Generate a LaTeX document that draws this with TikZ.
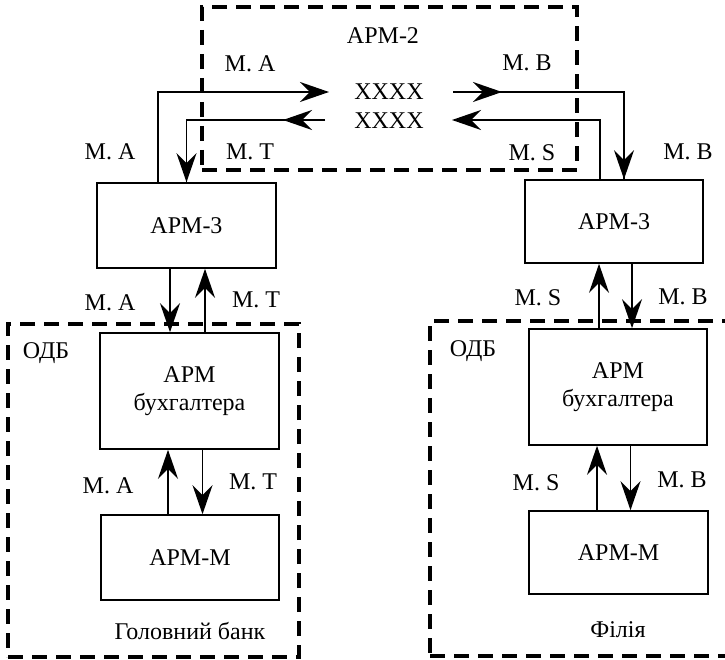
\documentclass[tikz,border=0pt]{standalone}
\usepackage{fontspec}
\setmainfont{Liberation Serif}
\usetikzlibrary{arrows.meta}
\begin{document}
\begin{tikzpicture}[x=1pt,y=-1pt,
  font=\fontsize{24}{28}\selectfont,
  block/.style={draw, line width=1.6pt, minimum width=179pt, align=center, inner sep=0pt},
  zone/.style={draw, line width=3.2pt, dash pattern=on 15pt off 9pt, inner sep=0pt},
  link/.style={line width=1.6pt, -{Stealth[length=29pt,width=20pt,inset=10pt]}},
  plain/.style={line width=1.6pt},
  lbl/.style={inner sep=0pt, anchor=center}]
\useasboundingbox (0,0) rectangle (725,660);
\clip (0,0) rectangle (725,660);

% dashed zones
\node[zone, minimum width=375pt, minimum height=163pt] (zone2) at (389.5,88.5) {};
\node[zone, minimum width=291pt, minimum height=333pt] (zoneL) at (153.5,490.5) {};
\node[zone, minimum width=310pt, minimum height=335pt] (zoneR) at (585,488.5) {};

% workstation boxes
\node[block, minimum height=85pt] (L3) at (186.5,225.5) {АРМ-3};
\node[block, minimum height=116pt] (LB) at (189.5,391) {АРМ\\бухгалтера};
\node[block, minimum height=85pt, minimum width=178pt] (LM) at (190,557.5) {АРМ-М};
\node[block, minimum height=83pt, minimum width=178pt] (R3) at (614,221.5) {АРМ-3};
\node[block, minimum height=116pt, minimum width=178pt] (RB) at (618,387) {АРМ\\бухгалтера};
\node[block, minimum height=83pt] (RM) at (618.5,552.5) {АРМ-М};

% АРМ-2 content
\node[lbl] (t2) at (383,36) {АРМ-2};
\node[lbl] (X1) at (389,92) {XXXX};
\node[lbl] (X2) at (389,121) {XXXX};

% routes through АРМ-2
\coordinate (a1) at (158,183);
\coordinate (a2) at (329,92);
\draw[link] (a1) |- (a2);
\coordinate (b1) at (453,92);
\coordinate (b2) at (502,92);
\draw[plain] (b1) -| (R3.north -| 624,0);
\draw[link] (b1) -- (b2);
\draw[link] (624,92) -- (R3.north -| 624,0);
\coordinate (c1) at (600,180);
\coordinate (c2) at (452,120);
\draw[link] (c1) |- (c2);
\coordinate (d1) at (325,120);
\coordinate (d2) at (283,120);
\draw[plain] (d1) -| (L3.north);
\draw[link] (d1) -- (d2);
\draw[link] (186.5,120) -- (L3.north);

% vertical exchanges
\draw[link] ([xshift=-16.5pt]L3.south) -- ([xshift=-16.5pt]L3.south |- LB.north);
\draw[link] ([xshift=15.5pt]LB.north) -- ([xshift=15.5pt]LB.north |- L3.south);
\draw[link] ([xshift=-22pt]LM.north) -- ([xshift=-22pt]LM.north |- LB.south);
\draw[link] ([xshift=13pt]LB.south) -- ([xshift=13pt]LB.south |- LM.north);
\draw[link] ([xshift=-19pt]RB.north) -- ([xshift=-19pt]RB.north |- R3.south);
\draw[link] ([xshift=18pt]R3.south) -- ([xshift=18pt]R3.south |- RB.north);
\draw[link] ([xshift=-21.5pt]RM.north) -- ([xshift=-21.5pt]RM.north |- RB.south);
\draw[link] ([xshift=12.5pt]RB.south) -- ([xshift=12.5pt]RB.south |- RM.north);

% message labels
\node[lbl] (m1) at (250,64) {М. А};
\node[lbl] (m2) at (527,63) {М. В};
\node[lbl] (m3) at (250,152) {М. Т};
\node[lbl] (m4) at (532,153) {М. S};
\node[lbl] (m5) at (110,152) {М. А};
\node[lbl] (m6) at (688,152) {М. В};
\node[lbl] (m7) at (110,303) {М. А};
\node[lbl] (m8) at (256,300) {М. Т};
\node[lbl] (m9) at (108,486) {М. А};
\node[lbl] (m10) at (253,482) {М. Т};
\node[lbl] (m11) at (538,298) {М. S};
\node[lbl] (m12) at (683,297) {М. В};
\node[lbl] (m13) at (536,483) {М. S};
\node[lbl] (m14) at (682,480) {М. В};

% zone captions
\node[lbl] (o1) at (46,353) {ОДБ};
\node[lbl] (o2) at (473,351) {ОДБ};
\node[lbl] (g1) at (190,631) {Головний банк};
\node[lbl] (g2) at (618,630) {Філія};
\end{tikzpicture}
\end{document}
